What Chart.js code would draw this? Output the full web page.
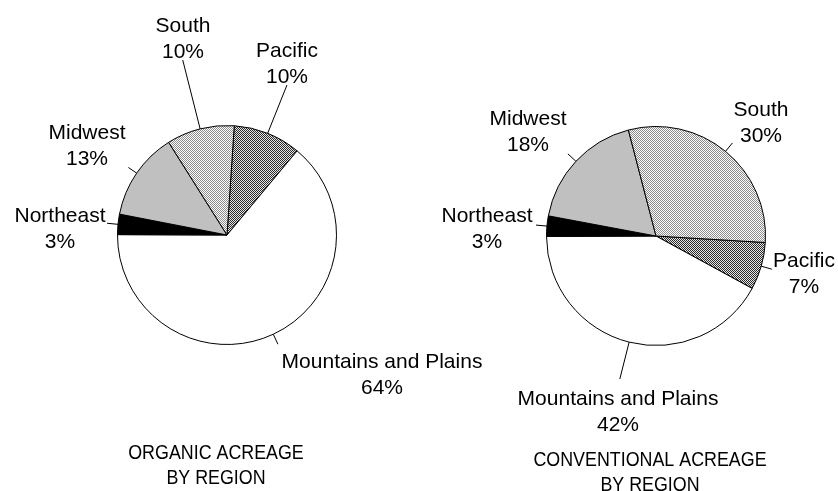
<!DOCTYPE html>
<html>
<head>
<meta charset="utf-8">
<script src="https://cdn.jsdelivr.net/npm/chart.js@4.4.0/dist/chart.umd.min.js"></script>
<style>
    html, body { margin: 0; padding: 0; background: #fff; }
    #wrap { position: relative; width: 838px; height: 491px; }
    #wrap canvas { position: absolute; left: 0; top: 0; }
</style>
</head>
<body>
<div id="wrap">
    <canvas id="organicChart" width="838" height="491"></canvas>
    <canvas id="conventionalChart" width="838" height="491"></canvas>
</div>
<script>
// regions in clockwise order, starting at Pacific
const regions = ['Pacific', 'Mountains and Plains', 'Northeast', 'Midwest', 'South'];
const organicShares = [10, 64, 3, 13, 10];
const conventionalShares = [7, 42, 3, 18, 30];
const organicTitle = ['ORGANIC ACREAGE', 'BY REGION'];
const conventionalTitle = ['CONVENTIONAL ACREAGE', 'BY REGION'];

const LABEL_FONT = '21px "Liberation Sans", Arial, sans-serif';

function makePattern(size, cells, dark, light) {
    const c = document.createElement('canvas');
    c.width = size;
    c.height = size;
    const g = c.getContext('2d');
    g.fillStyle = light;
    g.fillRect(0, 0, size, size);
    g.fillStyle = dark;
    cells.forEach(([x, y]) => g.fillRect(x, y, 1, 1));
    return g.createPattern(c, 'repeat');
}

// fine dot pattern for South, denser dark one for Pacific
const southFill = makePattern(2, [[0, 0], [1, 1]], '#8c8c8c', '#ffffff');
const pacificFill = makePattern(2, [[0, 0], [1, 1]], '#2a2a2a', '#e6e6e6');
const fills = [pacificFill, '#ffffff', '#000000', '#c0c0c0', southFill];

// leader line + two-line label next to each slice
const sliceLabels = {
    id: 'sliceLabels',
    afterDatasetsDraw(chart, args, opts) {
        const ctx = chart.ctx;
        const meta = chart.getDatasetMeta(0);
        const values = chart.data.datasets[0].data;
        ctx.save();
        meta.data.forEach((arc, i) => {
            const p = arc.getProps(['x', 'y', 'startAngle', 'endAngle', 'outerRadius'], true);
            const mid = (p.startAngle + p.endAngle) / 2;
            const lay = opts.layout[i];
            const r0 = p.outerRadius;
            const r1 = r0 + lay.len;
            ctx.strokeStyle = '#000';
            ctx.lineWidth = 1;
            ctx.beginPath();
            ctx.moveTo(p.x + r0 * Math.cos(mid), p.y + r0 * Math.sin(mid));
            ctx.lineTo(p.x + r1 * Math.cos(mid), p.y + r1 * Math.sin(mid));
            ctx.stroke();

            ctx.fillStyle = '#000';
            ctx.font = LABEL_FONT;
            ctx.textAlign = 'center';
            ctx.textBaseline = 'alphabetic';
            const tx = p.x + lay.dx;
            const ty = p.y + lay.dy;
            ctx.fillText(chart.data.labels[i], tx, ty);
            ctx.fillText(values[i] + '%', tx, ty + 26);
        });

        // title under the pie, condensed like a narrow face
        const t = opts.title;
        ctx.font = '21px "Liberation Sans", Arial, sans-serif';
        ctx.textAlign = 'center';
        t.lines.forEach((line, k) => {
            ctx.save();
            ctx.translate(t.x, t.y + k * 25);
            ctx.scale(0.85, 1);
            ctx.fillText(line, 0, 0);
            ctx.restore();
        });
        ctx.restore();
    }
};

function pieConfig(values, rotation, padding, layout, title) {
    return {
        type: 'pie',
        data: {
            labels: regions,
            datasets: [{
                data: values,
                backgroundColor: fills,
                borderColor: '#000',
                borderWidth: 1,
            }],
        },
        options: {
            responsive: false,
            animation: false,
            rotation: rotation,
            layout: { padding: padding },
            plugins: {
                legend: { display: false },
                tooltip: { enabled: false },
                sliceLabels: { layout: layout, title: title },
            },
        },
        plugins: [sliceLabels],
    };
}

new Chart(document.getElementById('organicChart'), pieConfig(
    organicShares, 3.8,
    { left: 117, right: 501, top: 125, bottom: 146 },
    [
        { len: 52, dx: 60, dy: -178 },
        { len: 11, dx: 155, dy: 133 },
        { len: 11, dx: -167, dy: -13 },
        { len: 10, dx: -140, dy: -96 },
        { len: 71, dx: -44, dy: -203 },
    ],
    { lines: organicTitle, x: 216, y: 459 }
));

new Chart(document.getElementById('conventionalChart'), pieConfig(
    conventionalShares, 93.4,
    { left: 546, right: 72, top: 126, bottom: 145 },
    [
        { len: 11, dx: 148, dy: 31 },
        { len: 38, dx: -38, dy: 169 },
        { len: 11, dx: -169, dy: -14 },
        { len: 11, dx: -128, dy: -111 },
        { len: 11, dx: 105, dy: -120 },
    ],
    { lines: conventionalTitle, x: 650, y: 466 }
));
</script>
</body>
</html>
